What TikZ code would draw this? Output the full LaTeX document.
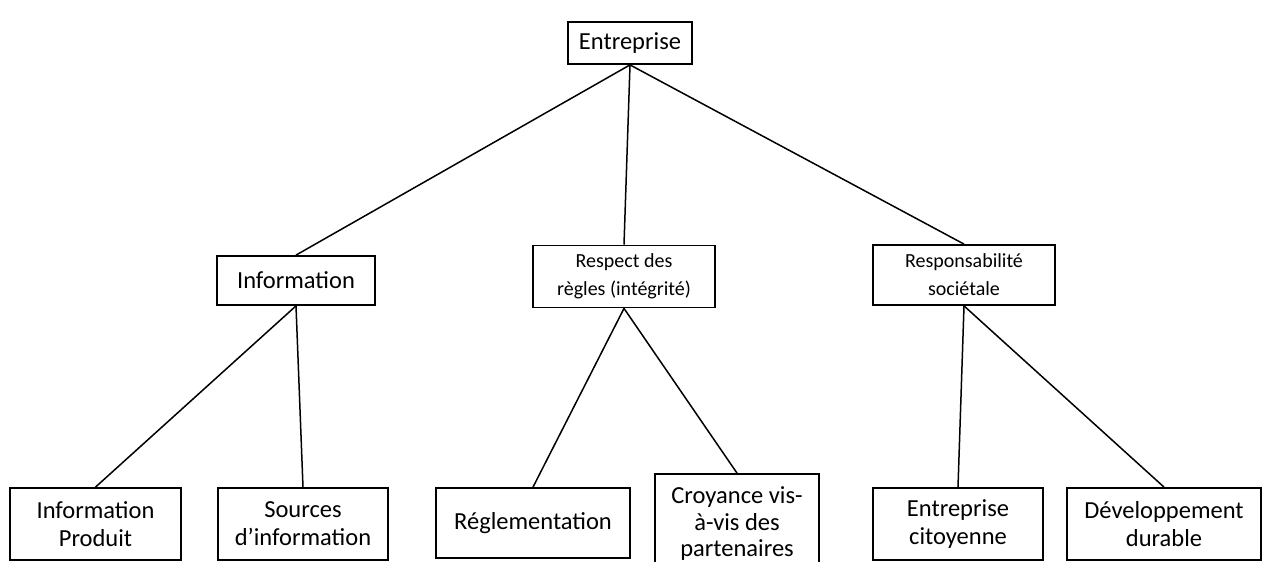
\documentclass[tikz,border=0pt]{standalone}
\usepackage{fontspec}
\setmainfont{Carlito}

\begin{document}
\begin{tikzpicture}[x=1pt, y=-1pt, line width=1.5pt,
  box/.style={draw, line width=1.8pt, inner sep=0pt, align=center, font=\fontsize{24.5}{28}\selectfont},
  smallbox/.style={box, font=\fontsize{20}{28}\selectfont}]
\useasboundingbox (0,0) rectangle (1264,562);
\clip (0,0) rectangle (1264,562);
\node[box, minimum width=124, minimum height=42] (ent) at (630,43) {Entreprise};
\node[box, minimum width=158, minimum height=49] (info) at (296,280.5) {Information};
\node[smallbox, minimum width=182, minimum height=62] (resp) at (624,276.5) {Respect des\\règles (intégrité)};
\node[smallbox, minimum width=182, minimum height=60] (soc) at (964,275) {Responsabilité\\sociétale};
\node[box, minimum width=171, minimum height=72] (prod) at (95.5,524) {Information\\Produit};
\node[box, minimum width=170, minimum height=72] (src) at (303,524) {Sources\\d’information};
\node[box, minimum width=194, minimum height=70] (regl) at (533,523) {Réglementation};
\node[box, minimum width=164, minimum height=100, font=\fontsize{24.5}{26.5}\selectfont] (croy) at (737,524) {\raisebox{3pt}{\parbox{160pt}{\centering Croyance vis-\\à-vis des\\partenaires}}};
\node[box, minimum width=170, minimum height=72] (cit) at (958,524) {Entreprise\\citoyenne};
\node[box, minimum width=194, minimum height=72] (dev) at (1164,524) {Développement\\durable};
\draw (ent.south) -- (info.north);
\draw (ent.south) -- (resp.north);
\draw (ent.south) -- (soc.north);
\draw (info.south) -- (prod.north);
\draw (info.south) -- (src.north);
\draw (resp.south) -- (regl.north);
\draw (resp.south) -- (croy.north);
\draw (soc.south) -- (cit.north);
\draw (soc.south) -- (dev.north);
\end{tikzpicture}
\end{document}
